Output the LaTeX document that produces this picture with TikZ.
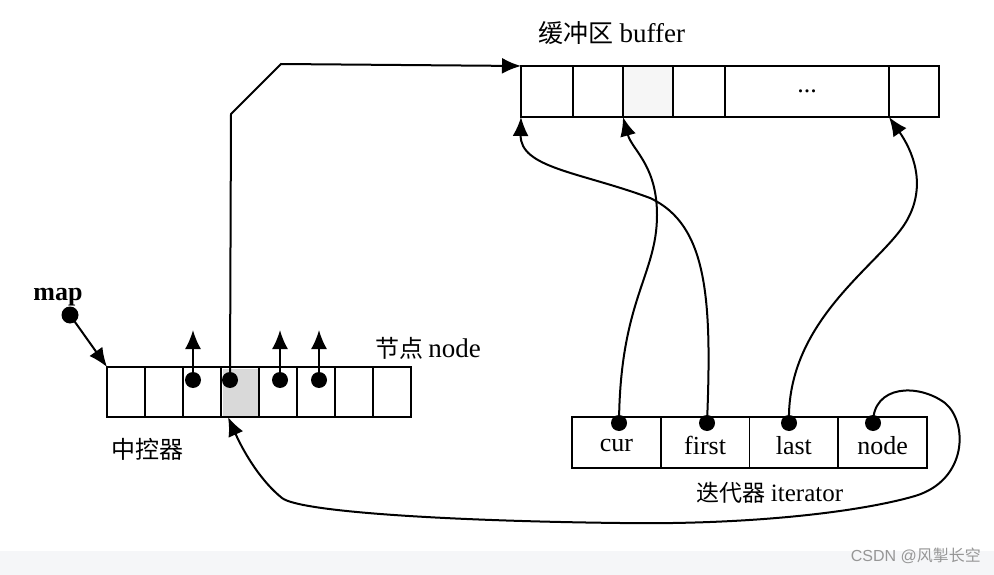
\documentclass[tikz,border=0pt]{standalone}
\usepackage{fontspec}
\setmainfont{Liberation Serif}
\newfontfamily\cjk{Noto Sans CJK SC}
\newfontfamily\wmfont{Liberation Sans}
\usetikzlibrary{arrows.meta,calc}
\begin{document}
\begin{tikzpicture}[x=1pt,y=-1pt,
  cell/.style={draw,line width=1.8pt,minimum height=50pt,inner sep=0pt,outer sep=0pt,anchor=north west},
  dot/.style={circle,fill=black,inner sep=0pt,minimum size=16pt},
  link/.style={line width=2pt,-{Latex[length=19pt,width=16pt]}},
  lbl/.style={font=\fontsize{26}{26}\selectfont,inner sep=0pt},
  zh/.style={font=\fontsize{24}{24}\selectfont\cjk,inner sep=0pt}
]
\useasboundingbox (0,0) rectangle (994,575);
\fill[white] (0,0) rectangle (994,551);
\fill[fill={rgb,255:red,245;green,246;blue,248}] (0,551) rectangle (994,575);
\node[inner sep=0pt,text={rgb,255:red,150;green,150;blue,150},anchor=east] (wm) at (981,556)
  {\fontsize{16}{16}\selectfont\wmfont CSDN @\cjk 风掣长空};

% buffer
\node[cell,minimum width=52pt,minimum height=51pt] (b1) at (521,66) {};
\node[cell,minimum width=50pt,minimum height=51pt] (b2) at (573,66) {};
\node[cell,minimum width=50pt,minimum height=51pt,fill=gray!7] (b3) at (623,66) {};
\node[cell,minimum width=52pt,minimum height=51pt] (b4) at (673,66) {};
\node[cell,minimum width=164pt,minimum height=51pt] (b5) at (725,66) {};
\node[cell,minimum width=50pt,minimum height=51pt] (b6) at (889,66) {};
\node[lbl] (dots) at (b5.center) {...};
\node[anchor=center,inner sep=0pt] (buflbl) at (612,33) {\fontsize{25}{25}\selectfont\cjk 缓冲区\ \rmfamily\fontsize{27}{27}\selectfont buffer};

% node array (map)
\foreach \i in {1,...,8}{
  \node[cell,minimum width=38pt] (n\i) at ({107+38*(\i-1)},367) {};
}
\fill[gray!30] ($(n4.north west)+(1.5,1.5)$) rectangle ($(n4.south east)+(-1.5,-1.5)$);
\node[anchor=center,inner sep=0pt] (nodelbl) at (428,348) {\fontsize{24}{24}\selectfont\cjk 节点\ \rmfamily\fontsize{27}{27}\selectfont node};
\node[zh] (ctrl) at (147,449) {中控器};
\node[inner sep=0pt,font=\fontsize{26}{26}\selectfont\bfseries] (maplbl) at (58,297) {map};
\node[dot,minimum size=17pt] (mapdot) at (70,315) {};
\draw[link] (mapdot.center) -- (n1.north west);

\node[dot] (d3) at (193,380) {};
\node[dot] (d4) at (230,380) {};
\node[dot] (d5) at (280,380) {};
\node[dot] (d6) at (319,380) {};
\coordinate (u3) at (193,330);
\coordinate (u5) at (280,330);
\coordinate (u6) at (319,330);
\draw[link] (d3.center) -- (u3);
\draw[link] (d5.center) -- (u5);
\draw[link] (d6.center) -- (u6);
\draw[link] (d4.center) -- (231,114) -- (281,64) -- (b1.north west);

% iterator
\foreach \i/\t in {1/cur,2/first,3/last,4/node}{
  \node[cell,minimum width=88.75pt,minimum height=51pt] (it\i) at ({572+88.75*(\i-1)},417) {};
  \node[lbl] (t\i) at ($(it\i.center)+(0,3)$) {\t};
}
\node[anchor=center,inner sep=0pt] (itlbl) at (770,493) {\fontsize{23}{23}\selectfont\cjk 迭代器\ \rmfamily\fontsize{25}{25}\selectfont iterator};

\node[dot] (cdot) at (619,423) {};
\node[dot] (fdot) at (707,423) {};
\node[dot] (ldot) at (789,423) {};
\node[dot] (ndot) at (873,423) {};

% cur -> b3
\draw[link] (cdot.center) .. controls (620,300) and (657,275) .. (657,215)
  .. controls (657,165) and (632,150) .. (b3.south west);
% first -> b1
\draw[link] (fdot.center) .. controls (712,300) and (708,225) .. (650,198)
  .. controls (580,172) and (520,168) .. (b1.south west);
% last -> b6
\draw[link] (ldot.center) .. controls (786,320) and (880,265) .. (906,222)
  .. controls (928,185) and (912,150) .. (b6.south west);
% node -> n4
\coordinate (n4in) at ($(n4.south west)+(7,0)$);
\draw[link] (ndot.center) .. controls (873,385) and (918,383) .. (945,403)
  .. controls (968,422) and (968,480) .. (915,496)
  .. controls (860,512) and (750,525) .. (620,523)
  .. controls (450,521) and (300,512) .. (282,498)
  .. controls (262,482) and (245,455) .. (n4in);
\end{tikzpicture}
\end{document}
